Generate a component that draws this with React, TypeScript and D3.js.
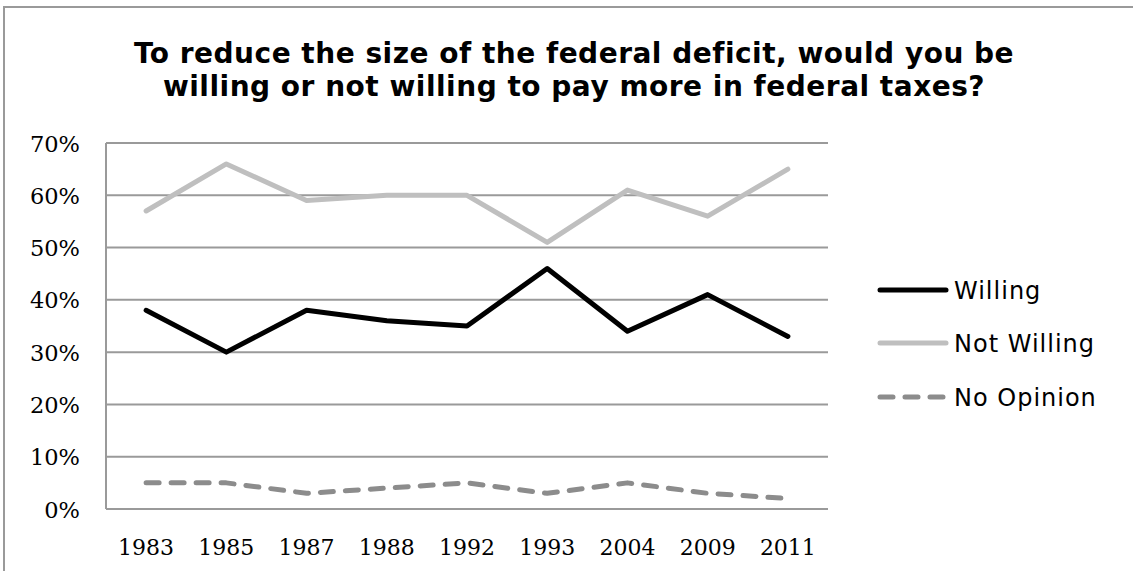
import React, { useEffect, useRef } from "react";
import * as d3 from "d3";

const years = ["1983", "1985", "1987", "1988", "1992", "1993", "2004", "2009", "2011"];
const willing = [38, 30, 38, 36, 35, 46, 34, 41, 33];
const notWilling = [57, 66, 59, 60, 60, 51, 61, 56, 65];
const noOpinion = [5, 5, 3, 4, 5, 3, 5, 3, 2];
const yTicks = [0, 10, 20, 30, 40, 50, 60, 70];
const titleLines = [
  "To reduce the size of the federal deficit, would you be",
  "willing or not willing to pay more in federal taxes?",
];

const seriesList = [
  { name: "Willing", values: willing, color: "#000000", dash: null as string | null },
  { name: "Not Willing", values: notWilling, color: "#bfbfbf", dash: null as string | null },
  { name: "No Opinion", values: noOpinion, color: "#8c8c8c", dash: "13,12" },
];

export default function App() {
  const ref = useRef<SVGSVGElement>(null);
  useEffect(() => {
    const svg = d3.select(ref.current);
    svg.selectAll("*").remove();
    const W = 1133, H = 571;
    const left = 106, right = 828, top = 143, bottom = 509;

    svg.append("rect").attr("width", W).attr("height", H).attr("fill", "#fff");
    svg.append("rect").attr("x", 4).attr("y", 7).attr("width", W + 10).attr("height", H + 10)
      .attr("fill", "none").attr("stroke", "#9a9a9a").attr("stroke-width", 2);

    const tg = svg.append("g");
    titleLines.forEach((t, i) => {
      tg.append("text").attr("x", 574).attr("y", 63 + i * 33).attr("text-anchor", "middle")
        .attr("font-family", "'DejaVu Sans', Verdana, sans-serif").attr("font-weight", "bold")
        .attr("font-size", 28).attr("letter-spacing", 0.5).attr("fill", "#000").text(t);
    });

    const x = d3.scaleBand().domain(years).range([left, right]);
    const y = d3.scaleLinear().domain([0, 70]).range([bottom, top]);

    const grid = svg.append("g");
    yTicks.forEach((v) => {
      grid.append("line").attr("x1", left).attr("x2", right).attr("y1", y(v)).attr("y2", y(v))
        .attr("stroke", "#9a9a9a").attr("stroke-width", 2);
      grid.append("text").attr("x", 80).attr("y", y(v)).attr("dy", "0.38em").attr("text-anchor", "end")
        .attr("font-family", "'DejaVu Serif', serif").attr("font-size", 22.5).attr("fill", "#000")
        .text(v + "%");
    });
    grid.append("line").attr("x1", left).attr("x2", left).attr("y1", y(70)).attr("y2", y(0))
      .attr("stroke", "#9a9a9a").attr("stroke-width", 2);

    years.forEach((yr) => {
      svg.append("text").attr("x", (x(yr) as number) + x.bandwidth() / 2).attr("y", 555)
        .attr("text-anchor", "middle").attr("font-family", "'DejaVu Serif', serif")
        .attr("font-size", 22).attr("fill", "#000").text(yr);
    });

    const line = d3.line<number>()
      .x((_, i) => (x(years[i]) as number) + x.bandwidth() / 2)
      .y((d) => y(d));

    seriesList.forEach((s) => {
      const p = svg.append("path").attr("d", line(s.values)).attr("fill", "none")
        .attr("stroke", s.color).attr("stroke-width", 5).attr("stroke-linejoin", "round")
        .attr("stroke-linecap", "round");
      if (s.dash) p.attr("stroke-dasharray", s.dash);
    });
    const legendY = [290, 343, 397];
    seriesList.forEach((s, i) => {
      const l = svg.append("line").attr("x1", 880).attr("x2", s.dash ? 943 : 946)
        .attr("y1", legendY[i]).attr("y2", legendY[i])
        .attr("stroke", s.color).attr("stroke-width", 5).attr("stroke-linecap", "round");
      if (s.dash) l.attr("stroke-dasharray", s.dash);
      svg.append("text").attr("x", 954).attr("y", legendY[i]).attr("dy", "0.36em")
        .attr("font-family", "'DejaVu Sans', Verdana, sans-serif").attr("font-size", 24)
        .attr("letter-spacing", 1).attr("fill", "#000").text(s.name);
    });
  }, []);
  return (
    <svg ref={ref} width={1133} height={571}
      style={{ position: "absolute", left: 0, top: 0, display: "block" }} />
  );
}
